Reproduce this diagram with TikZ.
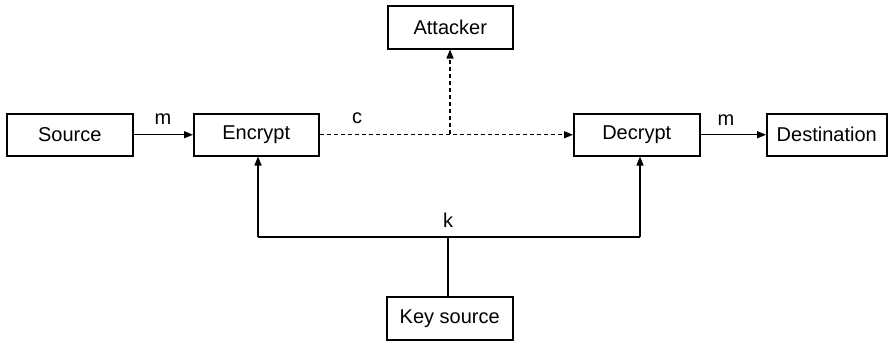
\documentclass[tikz,border=0pt]{standalone}
\usepackage{fontspec}
\setmainfont{Liberation Sans}
\usetikzlibrary{arrows.meta}
\begin{document}
\begin{tikzpicture}[x=1pt,y=-1pt,
  box/.style={draw, line width=1.5pt, inner sep=0pt, anchor=north west},
  lbl/.style={font=\fontsize{20}{24}\selectfont},
  link/.style={line width=1.4pt, -{Triangle[length=9pt,width=7pt]}},
  dlink/.style={link, dash pattern=on 4pt off 3pt},
  wire/.style={line width=1.4pt}]
\useasboundingbox (0,0) rectangle (890,340);
% boxes
\node[box, minimum width=126pt, minimum height=42pt, lbl] (src) at (6,113) {Source};
\node[box, minimum width=125pt, minimum height=42pt, lbl] (enc) at (193,113) {Encrypt};
\node[box, minimum width=125pt, minimum height=43pt, lbl] (att) at (387,5) {Attacker};
\node[box, minimum width=126pt, minimum height=42pt, lbl] (dec) at (573,113) {Decrypt};
\node[box, minimum width=120pt, minimum height=42pt, lbl] (dst) at (766,113) {Destination};
\node[box, minimum width=126pt, minimum height=43pt, lbl] (key) at (386,296) {Key source};
% junctions
\coordinate (tap) at (450,134);
\coordinate (kj) at (448,237);
\coordinate (kl) at (258,237);
\coordinate (kr) at (640,237);
% plaintext in / out
\draw[link] (src.east) -- (enc.west);
\draw[link] (dec.east) -- (dst.west);
% ciphertext channel
\draw[dlink] (enc.east) -- (dec.west);
\draw[dlink] (tap) -- (att.south -| tap);
% key distribution
\draw[wire] (key.north -| kj) -- (kj);
\draw[link] (kl) -- (enc.south -| kl);
\draw[link] (kr) -- (dec.south -| kr);
\draw[wire] (kl) -- (kr);
% labels
\node[lbl] (m1) at (163,119) {m};
\node[lbl] (c1) at (357,118) {c};
\node[lbl] (m2) at (726,120) {m};
\node[lbl] (k1) at (448,220) {k};
\end{tikzpicture}
\end{document}
